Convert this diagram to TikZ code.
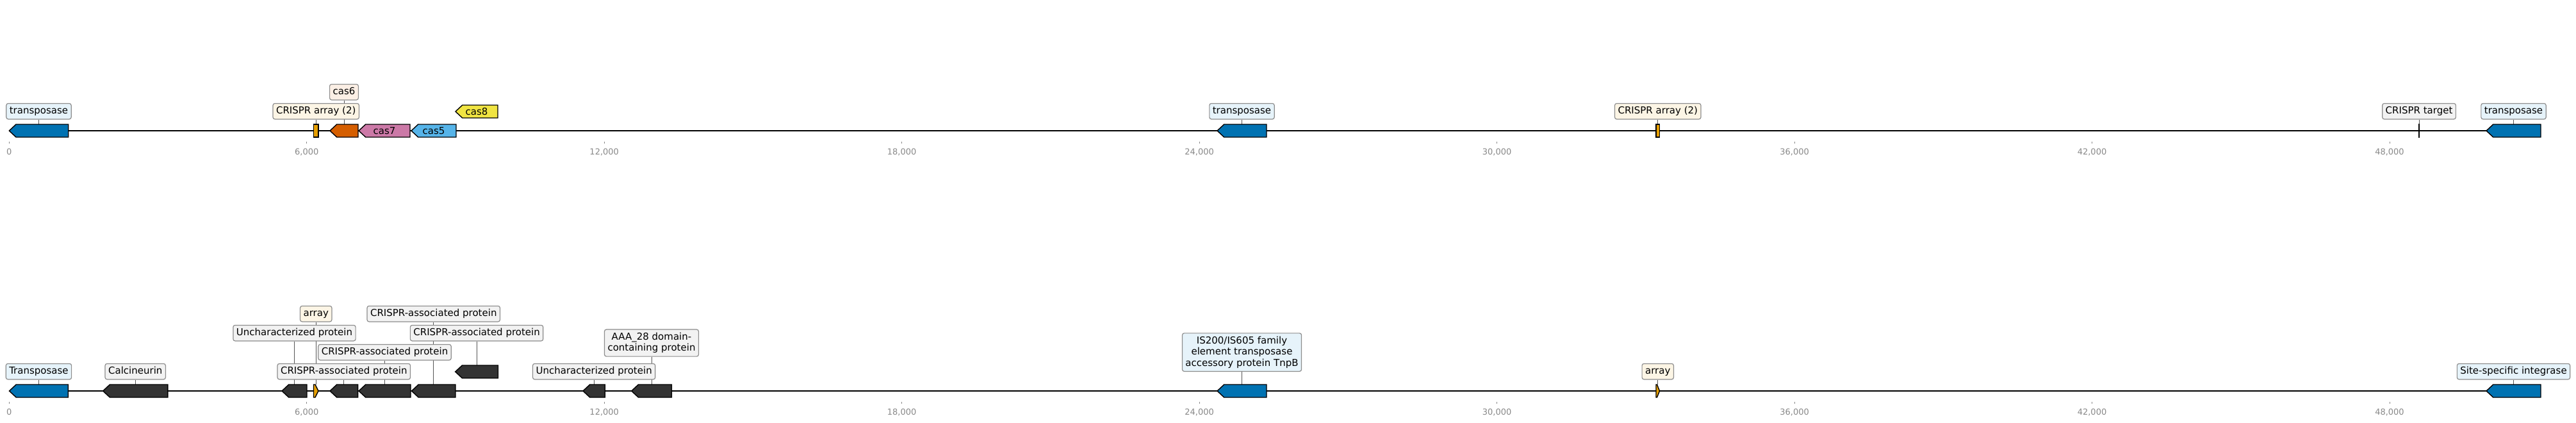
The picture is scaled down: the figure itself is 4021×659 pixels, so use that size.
\documentclass[tikz,border=0pt]{standalone}
\usepackage{fontspec}
\setmainfont{DejaVu Sans}
\usepackage{xcolor}
\usepackage{tikz}
\usetikzlibrary{positioning,backgrounds}

\definecolor{geneblue}{HTML}{0072B2}
\definecolor{cassix}{HTML}{D55E00}
\definecolor{casseven}{HTML}{CC79A7}
\definecolor{casfive}{HTML}{56B4E9}
\definecolor{caseight}{HTML}{F0E442}
\definecolor{arrayorange}{HTML}{E69F00}
\definecolor{genedark}{HTML}{333333}
\definecolor{boxgrey}{HTML}{8C8C8C}
\definecolor{leadgrey}{HTML}{555555}
\definecolor{tickgrey}{HTML}{888888}
\definecolor{blueten}{HTML}{E6F3FA}
\colorlet{arrayten}{arrayorange!10}
\colorlet{sixten}{cassix!10}
\definecolor{greyten}{HTML}{F2F2F2}

% gene arrows: name, start, end, centre line, fill, tip length
\newcommand{\lgene}[6]{%
  \draw[genebox, fill=#5] (#3,#4-10) -- (#3,#4+10) -- (#2+#6,#4+10) -- (#2,#4) -- (#2+#6,#4-10) -- cycle;
  \coordinate (#1) at ({(#2+#3)/2},#4-10);}
\newcommand{\rgene}[6]{%
  \draw[genebox, fill=#5] (#2,#4-10) -- (#3-#6,#4-10) -- (#3,#4) -- (#3-#6,#4+10) -- (#2,#4+10) -- cycle;
  \coordinate (#1) at ({(#2+#3)/2},#4-10);}

\begin{document}
\begin{tikzpicture}[x=1pt, y=-1pt,
  lbl/.style={draw=boxgrey, line width=1.2pt, rounded corners=3pt, inner xsep=5pt, inner ysep=4.8pt,
    text height=11.4pt, text depth=3.5pt, font=\fontsize{15}{17.5}\selectfont},
  lblml/.style={lbl, text height={}, text depth={}, inner ysep=5pt, align=center},
  genebox/.style={draw=black, line width=1.4pt},
  gtext/.style={inner sep=0pt, font=\fontsize{15}{17.5}\selectfont},
  spine/.style={draw=black, line width=2.2pt},
  leader/.style={draw=leadgrey, line width=1pt},
  tick/.style={draw=tickgrey, line width=0.8pt},
  ticklab/.style={text=tickgrey, anchor=base, inner sep=0pt, font=\fontsize{13}{15}\selectfont}]
\useasboundingbox (0,0) rectangle (4021,659);

% scale, in kb
\foreach \k/\t in {0/0, 6/{6,000}, 12/{12,000}, 18/{18,000}, 24/{24,000}, 30/{30,000}, 36/{36,000}, 42/{42,000}, 48/{48,000}} {
  \draw[tick] ({14.3+77.41*\k},221) -- ({14.3+77.41*\k},224);
  \node[ticklab] (ta\k) at ({14.3+77.41*\k},241) {\t};
  \draw[tick] ({14.3+77.41*\k},627) -- ({14.3+77.41*\k},630);
  \node[ticklab] (tb\k) at ({14.3+77.41*\k},647) {\t};
}

% upper track
\draw[spine] (14.3,204) -- (3966,204);
\lgene{g1}{14.3}{106.7}{204}{geneblue}{10.7}
\rgene{a1}{489.5}{497}{204}{arrayorange}{0}
\lgene{g2}{515}{559}{204}{cassix}{10.7}
\lgene{g3}{560}{640}{204}{casseven}{10.7}
\lgene{g4}{642}{712}{204}{casfive}{10.7}
\lgene{g5}{711}{777}{174}{caseight}{10.7}
\lgene{g6}{1900}{1977}{204}{geneblue}{10.7}
\rgene{a2}{2585}{2590.5}{204}{arrayorange}{0}
\draw[black, line width=2pt] (3776,193) -- (3776,215);
\coordinate (tg) at (3776,194);
\lgene{g7}{3881}{3966}{204}{geneblue}{10.7}

\node[gtext] (n3) at (600,204) {cas7};
\node[gtext] (n4) at (677,204) {cas5};
\node[gtext] (n5) at (744,174) {cas8};

\node[lbl, fill=blueten, above=7.5pt of g1] (l1) {transposase};
\node[lbl, fill=arrayten, above=7.5pt of a1] (l2) {CRISPR array (2)};
\node[lbl, fill=sixten, above=37.5pt of g2] (l3) {cas6};
\node[lbl, fill=blueten, above=7.5pt of g6] (l4) {transposase};
\node[lbl, fill=arrayten, above=7.5pt of a2] (l5) {CRISPR array (2)};
\node[lbl, fill=greyten, above=7.5pt of tg] (l6) {CRISPR target};
\node[lbl, fill=blueten, above=7.5pt of g7] (l7) {transposase};

% lower track
\draw[spine] (14.5,610) -- (3966,610);
\lgene{h1}{14.5}{106.4}{610}{geneblue}{10.7}
\lgene{h2}{160.7}{261.8}{610}{genedark}{10.7}
\lgene{h3}{440}{479}{610}{genedark}{10.7}
\rgene{b1}{489.5}{497}{610}{arrayorange}{5}
\lgene{h4}{515}{558.6}{610}{genedark}{10.7}
\lgene{h5}{560}{641}{610}{genedark}{10.7}
\lgene{h6}{642.5}{711}{610}{genedark}{10.7}
\lgene{h7}{710.7}{777.5}{580}{genedark}{10.7}
\lgene{h8}{910}{944.3}{610}{genedark}{10.7}
\lgene{h9}{985.7}{1048.3}{610}{genedark}{10.7}
\lgene{h10}{1900}{1977}{610}{geneblue}{10.7}
\rgene{b2}{2585}{2590.5}{610}{arrayorange}{4}
\lgene{h11}{3881}{3966}{610}{geneblue}{10.7}

\node[lbl, fill=blueten, above=7.5pt of h1] (m1) {Transposase\ };
\node[lbl, fill=greyten, above=7.5pt of h2] (m2) {Calcineurin\ };
\node[lbl, fill=greyten, above=67.5pt of h3] (m3) {Uncharacterized protein\ };
\node[lbl, fill=arrayten, above=97.5pt of b1] (m4) {array};
\node[lbl, fill=greyten, above=7.5pt of h4] (m5) {CRISPR-associated protein\ };
\node[lbl, fill=greyten, above=37.5pt of h5] (m6) {CRISPR-associated protein\ };
\node[lbl, fill=greyten, above=97.5pt of h6] (m7) {CRISPR-associated protein\ };
\node[lbl, fill=greyten, above=37.5pt of h7] (m8) {CRISPR-associated protein\ };
\node[lbl, fill=greyten, above=7.5pt of h8] (m9) {Uncharacterized protein\ };
\node[lblml, fill=greyten, above=43.3pt of h9] (m10) {AAA\_28 domain-\\containing protein};
\node[lblml, fill=blueten, above=20pt of h10] (m11) {IS200/IS605 family\\element transposase\\accessory protein TnpB};
\node[lbl, fill=arrayten, above=7.5pt of b2] (m12) {array};
\node[lbl, fill=blueten, above=7.5pt of h11] (m13) {Site-specific integrase\ };

\begin{scope}[on background layer]
\draw[leader] (l1) -- (g1);
\draw[leader] (l2) -- (a1);
\draw[leader] (l3) -- (g2);
\draw[leader] (l4) -- (g6);
\draw[leader] (l5) -- (a2);
\draw[leader] (l6) -- (tg);
\draw[leader] (l7) -- (g7);
\draw[leader] (m1) -- (h1);
\draw[leader] (m2) -- (h2);
\draw[leader] (m3) -- (h3);
\draw[leader] (m4) -- (b1);
\draw[leader] (m5) -- (h4);
\draw[leader] (m6) -- (h5);
\draw[leader] (m7) -- (h6);
\draw[leader] (m8) -- (h7);
\draw[leader] (m9) -- (h8);
\draw[leader] (m10) -- (h9);
\draw[leader] (m11) -- (h10);
\draw[leader] (m12) -- (b2);
\draw[leader] (m13) -- (h11);
\end{scope}
\end{tikzpicture}
\end{document}
